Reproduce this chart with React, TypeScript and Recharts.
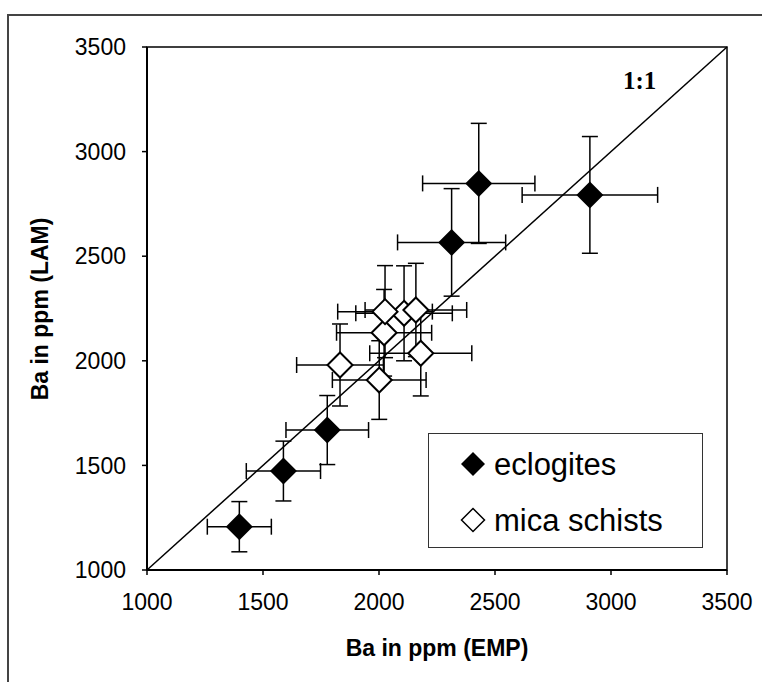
// @ts-nocheck
import {
  ErrorBar,
  Legend,
  ReferenceArea,
  ReferenceLine,
  Scatter,
  ScatterChart,
  XAxis,
  YAxis,
} from 'recharts';

const axisTicks = [1000, 1500, 2000, 2500, 3000, 3500];

// eclogites
const eclogiteEMP = [1398, 1588, 1777, 2313, 2430, 2909];
const eclogiteLAM = [1207, 1473, 1669, 2566, 2848, 2793];
const eclogiteEMPErr = [138, 160, 178, 233, 242, 292];
const eclogiteLAMErr = [120, 143, 165, 257, 287, 279];

// mica schists
const micaEMP = [1832, 2001, 2108, 2022, 2026, 2159, 2180];
const micaLAM = [1980, 1908, 2227, 2134, 2235, 2243, 2036];
const micaEMPErr = [187, 202, 208, 205, 204, 219, 220];
const micaLAMErr = [196, 188, 227, 207, 220, 223, 204];

const build = (xs, ys, exs, eys) =>
  xs.map((x, i) => ({ emp: x, lam: ys[i], ex: exs[i], ey: eys[i] }));

const eclogites = build(eclogiteEMP, eclogiteLAM, eclogiteEMPErr, eclogiteLAMErr);
const micaSchists = build(micaEMP, micaLAM, micaEMPErr, micaLAMErr);

const sans = '"Liberation Sans", Arial, sans-serif';
const tickStyle = { fill: '#000', fontSize: 23, fontFamily: sans };

const diamondPoints = (cx, cy, r) =>
  `${cx},${cy - r} ${cx + r},${cy} ${cx},${cy + r} ${cx - r},${cy}`;

const FilledDiamond = ({ cx, cy }) => (
  <polygon points={diamondPoints(cx, cy, 13.5)} fill="#000" />
);

const OpenDiamond = ({ cx, cy }) => (
  <polygon points={diamondPoints(cx, cy, 12.5)} fill="#fff" stroke="#000" strokeWidth={2} />
);

function BoxLegend() {
  return (
    <svg width={275} height={115} style={{ display: 'block' }}>
      <rect x={0.5} y={0.5} width={274} height={114} fill="#fff" stroke="#333" strokeWidth={1} />
      <polygon points={diamondPoints(45, 31, 12)} fill="#000" />
      <text x={66} y={42} fontSize={31} fontFamily={sans} fill="#000">eclogites</text>
      <polygon points={diamondPoints(45, 87, 11.5)} fill="#fff" stroke="#000" strokeWidth={1.5} />
      <text x={66} y={98} fontSize={31} fontFamily={sans} fill="#000">mica schists</text>
    </svg>
  );
}

export default function App() {
  return (
    <div style={{ position: 'fixed', left: 0, top: 0, width: 762, height: 682, overflow: 'hidden', background: '#fff' }}>
      <div
        style={{
          position: 'absolute',
          left: 7,
          top: 14,
          width: 780,
          height: 700,
          border: '2px solid #444',
        }}
      />
      <div style={{ position: 'absolute', left: 0, top: 0 }}>
        <ScatterChart width={762} height={682} margin={{ top: 47, right: 35, bottom: 52, left: 67 }}>
          <XAxis
            type="number"
            dataKey="emp"
            domain={[1000, 3500]}
            ticks={axisTicks}
            height={60}
            tickSize={5}
            tickMargin={19}
            axisLine={{ stroke: '#000', strokeWidth: 2 }}
            tickLine={{ stroke: '#000', strokeWidth: 1.5 }}
            tick={tickStyle}
            label={{
              content: () => (
                <text x={437} y={656} textAnchor="middle" fontSize={23} fontWeight="bold" fontFamily={sans} fill="#000">
                  Ba in ppm (EMP)
                </text>
              ),
            }}
          />
          <YAxis
            type="number"
            dataKey="lam"
            domain={[1000, 3500]}
            ticks={axisTicks}
            width={80}
            tickSize={5}
            tickMargin={16}
            axisLine={{ stroke: '#000', strokeWidth: 2 }}
            tickLine={{ stroke: '#000', strokeWidth: 1.5 }}
            tick={tickStyle}
            label={{
              content: () => (
                <text
                  x={48}
                  y={309}
                  transform="rotate(-90 48 309)"
                  textAnchor="middle"
                  fontSize={23}
                  fontWeight="bold"
                  fontFamily={sans}
                  fill="#000"
                >
                  Ba in ppm (LAM)
                </text>
              ),
            }}
          />
          <ReferenceArea x1={1000} x2={3500} y1={1000} y2={3500} fill="none" fillOpacity={0} stroke="#000" strokeWidth={1.5} />
          <Scatter name="eclogites" data={eclogites} shape={FilledDiamond} isAnimationActive={false}>
            <ErrorBar dataKey="ex" direction="x" width={8} stroke="#000" strokeWidth={1.5} />
            <ErrorBar dataKey="ey" direction="y" width={8} stroke="#000" strokeWidth={1.5} />
          </Scatter>
          <Scatter name="mica schists" data={micaSchists} shape={OpenDiamond} isAnimationActive={false}>
            <ErrorBar dataKey="ex" direction="x" width={8} stroke="#000" strokeWidth={1.5} />
            <ErrorBar dataKey="ey" direction="y" width={8} stroke="#000" strokeWidth={1.5} />
          </Scatter>
          <ReferenceLine
            segment={[{ x: 1000, y: 1000 }, { x: 3500, y: 3500 }]}
            stroke="#000"
            strokeWidth={1.5}
            ifOverflow="visible"
            label={{
              content: () => (
                <text x={623} y={89} fontSize={25} fontWeight="bold" fontFamily='"Liberation Serif", "Times New Roman", serif' fill="#000">
                  1:1
                </text>
              ),
            }}
          />
          <Legend
            layout="vertical"
            align="center"
            verticalAlign="middle"
            content={() => <BoxLegend />}
            wrapperStyle={{ position: 'absolute', left: 428, top: 433, width: 275, height: 115 }}
          />
        </ScatterChart>
      </div>
    </div>
  );
}
